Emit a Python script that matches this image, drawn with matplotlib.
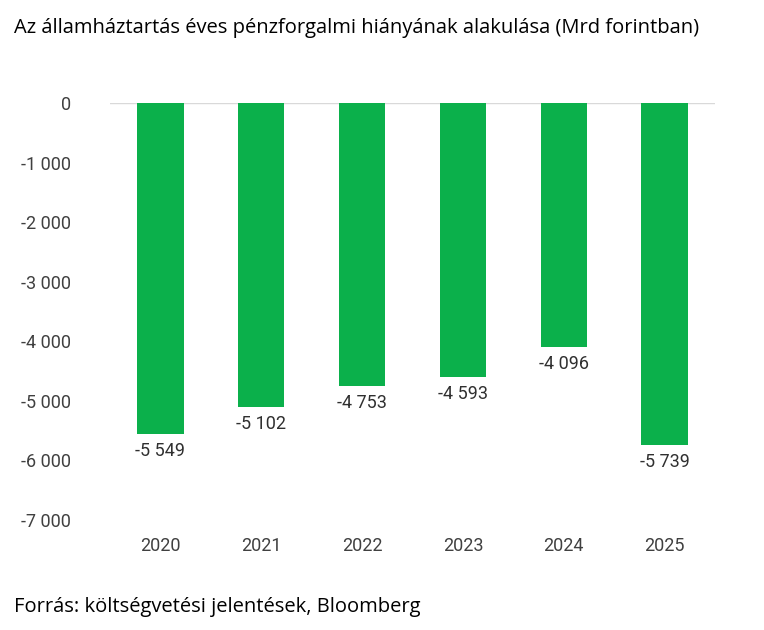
import matplotlib.pyplot as plt

years = ["2020", "2021", "2022", "2023", "2024", "2025"]
deficit = [-5549, -5102, -4753, -4593, -4096, -5739]
yticks = [0, -1000, -2000, -3000, -4000, -5000, -6000, -7000]


def fmt(v):
    s = f"{abs(v):,}".replace(",", " ")
    return ("-" if v < 0 else "") + s


fig = plt.figure(figsize=(7.64, 6.3), dpi=100)
ax = fig.add_axes([0.144, 0.1746, 0.792, 0.662])

x = range(len(years))
ax.bar(x, deficit, width=0.46, color="#0BB04B", zorder=2)
for i, v in zip(x, deficit):
    ax.annotate(fmt(v), (i, v), xytext=(0, -6), textcoords="offset points",
                ha="center", va="top", fontsize=13, color="#303030",
                family="Roboto")

ax.set_xlim(-0.5, 5.5)
ax.set_ylim(-7000, 0)
ax.set_yticks(yticks)
ax.set_yticklabels([fmt(t) for t in yticks], family="Roboto")
ax.set_xticks(list(x))
ax.set_xticklabels(years, family="Roboto")
ax.tick_params(length=0, labelsize=13, colors="#404040", pad=28)
ax.tick_params(axis="x", pad=12)
for s in ax.spines.values():
    s.set_visible(False)
ax.axhline(0, color="#D9D9D9", lw=1, zorder=1)

fig.text(0.018, 0.955, "Az államháztartás éves pénzforgalmi hiányának alakulása (Mrd forintban)",
         fontsize=14.5, family="Open Sans", va="center")
fig.text(0.018, 0.037, "Forrás: költségvetési jelentések, Bloomberg",
         fontsize=14.5, family="Open Sans", va="center")

fig.savefig("out.png")
